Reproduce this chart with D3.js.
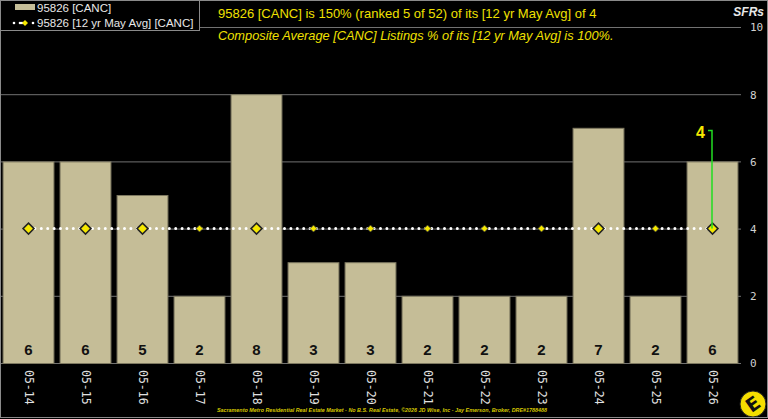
<!DOCTYPE html>
<html>
<head>
<meta charset="utf-8">
<script src="https://cdn.jsdelivr.net/npm/d3@7"></script>
<style>
  body { margin: 0; background: #000; }
  svg { display: block; }
</style>
</head>
<body>
<svg id="chart"></svg>
<script>
const categories = ['05-14','05-15','05-16','05-17','05-18','05-19','05-20','05-21','05-22','05-23','05-24','05-25','05-26'];
const listings = [6, 6, 5, 2, 8, 3, 3, 2, 2, 2, 7, 2, 6];
const avg12yr = [4, 4, 4, 4, 4, 4, 4, 4, 4, 4, 4, 4, 4];
const yTicks = [0, 2, 4, 6, 8, 10];
const title1 = '95826 [CANC] is 150% (ranked 5 of 52) of its [12 yr May Avg] of 4';
const title2 = 'Composite Average [CANC] Listings % of its [12 yr May Avg] is 100%.';
const footer = 'Sacramento Metro Residential Real Estate Market - No B.S. Real Estate, \u00A92026 JD Wise, Inc - Jay Emerson, Broker, DRE#1788488';

const width = 768, height = 419;
const plot = { left: 0, right: 741, top: 27, bottom: 363 };

const svg = d3.select('#chart').attr('width', width).attr('height', height);

svg.append('rect').attr('width', width).attr('height', height).attr('fill', '#000');

const xscale = d3.scaleBand().domain(categories).range([plot.left, plot.right]).paddingInner(0.09).paddingOuter(0.045);
const yscale = d3.scaleLinear().domain([0, 10]).range([plot.bottom, plot.top]);

// gridlines
svg.append('g').selectAll('line').data(yTicks).join('line')
  .attr('x1', plot.left).attr('x2', plot.right)
  .attr('y1', d => yscale(d) + 0.5).attr('y2', d => yscale(d) + 0.5)
  .attr('stroke', '#727272').attr('stroke-width', 1);

// y axis labels on right
const yaxis = d3.axisRight(yscale).tickValues(yTicks).tickSize(0).tickPadding(0);
const yg = svg.append('g').attr('transform', `translate(${plot.right + 9},0)`).call(yaxis);
yg.select('.domain').remove();
yg.selectAll('text').attr('fill', '#d0d0d0').attr('font-family', 'DejaVu Sans Mono').attr('font-size', 11).attr('dy', '0.35em');

// bars
svg.append('g').selectAll('rect').data(listings).join('rect')
  .attr('x', (d, i) => xscale(categories[i]) + 0.5)
  .attr('y', d => yscale(d) + 0.5)
  .attr('width', xscale.bandwidth() - 1)
  .attr('height', d => yscale(0) - yscale(d))
  .attr('fill', '#c5bd97')
  .attr('stroke', '#7d7860').attr('stroke-width', 1);

// bar value labels
svg.append('g').selectAll('text').data(listings).join('text')
  .attr('x', (d, i) => xscale(categories[i]) + xscale.bandwidth() / 2)
  .attr('y', plot.bottom - 8)
  .attr('text-anchor', 'middle')
  .attr('font-family', 'Liberation Sans, Arial, sans-serif')
  .attr('font-weight', 'bold').attr('font-size', 15)
  .attr('fill', '#111')
  .text(d => d);

// x axis labels (rotated)
const xaxis = d3.axisBottom(xscale).tickSize(0).tickPadding(0);
const xg = svg.append('g').attr('transform', `translate(0,${plot.bottom})`).call(xaxis);
xg.select('.domain').remove();
xg.selectAll('text')
  .attr('fill', '#e0e0e0').attr('font-family', 'DejaVu Sans Mono').attr('font-size', 11.5)
  .attr('text-anchor', 'start')
  .attr('transform', 'translate(-4,7) rotate(90)')
  .attr('x', 0).attr('y', 0).attr('dy', 0);

// average dotted line
const cx = c => xscale(c) + xscale.bandwidth() / 2;
const line = d3.line().x((d, i) => cx(categories[i])).y(d => yscale(d));
svg.append('path')
  .attr('d', line(avg12yr))
  .attr('fill', 'none').attr('stroke', '#fff').attr('stroke-width', 3)
  .attr('stroke-dasharray', '0 6.4').attr('stroke-linecap', 'round');

// markers
const diamond = s => `M0,${-s}L${s},0L0,${s}L${-s},0Z`;
svg.append('g').selectAll('path').data(avg12yr).join('path')
  .attr('transform', (d, i) => `translate(${cx(categories[i])},${yscale(d)})`)
  .attr('d', (d, i) => listings[i] > d ? diamond(5.5) : diamond(3.5))
  .attr('fill', '#f5e800')
  .attr('stroke', (d, i) => listings[i] > d ? '#222' : '#333')
  .attr('stroke-width', (d, i) => listings[i] > d ? 1.5 : 0.8);

// green deviation line on last bar
const li = categories.length - 1;
const gx = cx(categories[li]) - 0.5;
const gTop = yscale(avg12yr[li]) - 98;
svg.append('path')
  .attr('d', `M${gx - 4},${gTop}H${gx}V${yscale(avg12yr[li])}`)
  .attr('fill', 'none').attr('stroke', '#22dd22').attr('stroke-width', 1.5);
svg.append('text')
  .attr('x', gx - 7).attr('y', gTop + 7)
  .attr('text-anchor', 'end')
  .attr('font-family', 'Liberation Sans, Arial, sans-serif').attr('font-weight', 'bold').attr('font-size', 16)
  .attr('fill', '#f5e800')
  .text(avg12yr[li]);

// legend box
const lg = svg.append('g');
lg.append('rect').attr('x', 0.5).attr('y', 0.5).attr('width', 199).attr('height', 30)
  .attr('fill', '#000').attr('stroke', '#8a8a8a');
lg.append('rect').attr('x', 15).attr('y', 4).attr('width', 20).attr('height', 6).attr('fill', '#c5bd97');
lg.append('text').attr('x', 37).attr('y', 12).attr('fill', '#e8e8e8')
  .attr('font-family', 'Liberation Sans, Arial, sans-serif').attr('font-size', 11.5).text('95826 [CANC]');
[14, 20, 22, 33].forEach(x => lg.append('circle').attr('cx', x).attr('cy', 23).attr('r', 1.3).attr('fill', '#fff'));
lg.append('path').attr('transform', 'translate(25,23)').attr('d', diamond(3)).attr('fill', '#f5e800');
lg.append('text').attr('x', 37).attr('y', 27).attr('fill', '#e8e8e8')
  .attr('font-family', 'Liberation Sans, Arial, sans-serif').attr('font-size', 11.5).text('95826 [12 yr May Avg] [CANC]');

// titles
svg.append('text').attr('x', 218).attr('y', 18).attr('fill', '#f0e000')
  .attr('font-family', 'Liberation Sans, Arial, sans-serif').attr('font-size', 13).text(title1);
svg.append('text').attr('x', 218).attr('y', 40).attr('fill', '#f0e000')
  .attr('font-family', 'Liberation Sans, Arial, sans-serif').attr('font-style', 'italic').attr('font-size', 12.8).text(title2);
svg.append('text').attr('x', 764).attr('y', 16).attr('text-anchor', 'end').attr('fill', '#e8e8e8')
  .attr('font-family', 'Liberation Sans, Arial, sans-serif').attr('font-style', 'italic').attr('font-weight', 'bold')
  .attr('font-size', 12).text('SFRs');

// footer
svg.append('text').attr('x', 382).attr('y', 412).attr('text-anchor', 'middle').attr('fill', '#d6c800')
  .attr('font-family', 'Liberation Sans, Arial, sans-serif').attr('font-style', 'italic').attr('font-weight', 'bold')
  .attr('font-size', 5.4).text(footer);

// logo
const logo = svg.append('g').attr('transform', 'translate(753,404)');
logo.append('circle').attr('r', 13).attr('fill', '#f5de00').attr('stroke', '#222').attr('stroke-width', 1);
logo.append('text').attr('transform', 'rotate(-35)').attr('text-anchor', 'middle').attr('dy', '0.36em')
  .attr('font-family', 'DejaVu Sans, sans-serif').attr('font-weight', 'bold').attr('font-size', 19)
  .attr('fill', '#111').text('E');

// outer frame
svg.append('rect').attr('x', 0.5).attr('y', 0.5).attr('width', width - 1).attr('height', height - 2)
  .attr('fill', 'none').attr('stroke', '#8a8a8a');
</script>
</body>
</html>
